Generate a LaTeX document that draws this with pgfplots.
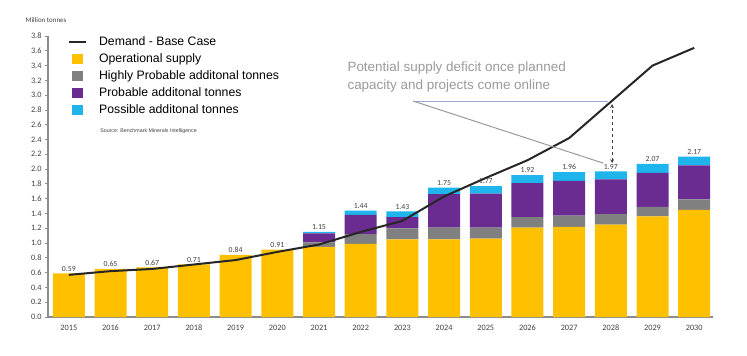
\documentclass[border=0pt]{standalone}
\usepackage{pgfplots}
\pgfplotsset{compat=1.18}
\usepackage{pgfplotstable}
\usepackage{fontspec}
\setmainfont{Liberation Sans}
\newfontfamily\calfont[Numbers=Lining]{Carlito}
\definecolor{opc}{HTML}{FFC000}
\definecolor{hpc}{HTML}{808080}
\definecolor{prc}{HTML}{6A2C91}
\definecolor{psc}{HTML}{1FB4EC}
\definecolor{axc}{HTML}{8C8C8C}
\definecolor{txc}{HTML}{404040}
\definecolor{annc}{HTML}{9A9A9A}
\definecolor{hlc}{HTML}{9AAAD0}

\pgfplotstableread{
x op hp pr ps tot lab
0 0.59 0 0 0 0.59 0.59
1 0.65 0 0 0 0.65 0.65
2 0.67 0 0 0 0.67 0.67
3 0.71 0 0 0 0.71 0.71
4 0.84 0 0 0 0.84 0.84
5 0.91 0 0 0 0.91 0.91
6 0.95 0.06 0.12 0.02 1.15 1.15
7 0.99 0.13 0.26 0.06 1.44 1.44
8 1.05 0.15 0.15 0.08 1.43 1.43
9 1.05 0.16 0.45 0.09 1.75 1.75
10 1.06 0.15 0.46 0.10 1.77 1.77
11 1.21 0.14 0.46 0.11 1.92 1.92
12 1.22 0.15 0.47 0.12 1.96 1.96
13 1.25 0.14 0.47 0.11 1.97 1.97
14 1.36 0.13 0.46 0.12 2.07 2.07
15 1.45 0.14 0.46 0.12 2.17 2.17
}\supply

\pgfplotstableread{
x d
0 0.57
1 0.62
2 0.65
3 0.71
4 0.77
5 0.88
6 0.98
7 1.15
8 1.30
9 1.63
10 1.88
11 2.12
12 2.42
13 2.91
14 3.40
15 3.64
}\demand

\pgfplotsset{
  common/.style={
    at={(0,0)}, anchor=south west,
    scale only axis, width=665bp, height=281bp,
    xmin=-0.5, xmax=15.45, ymin=0, ymax=3.8,
    clip=false,
  }
}

\begin{document}
\begin{tikzpicture}
\path (-48bp,-39bp) rectangle (699bp,317bp);
\begin{axis}[
  common,
  ybar stacked, bar width=32bp,
  axis x line*=bottom, axis y line*=left,
  axis line style={axc, line width=1.3bp},
  xtick={0,...,15},
  xticklabels={2015,2016,2017,2018,2019,2020,2021,2022,2023,2024,2025,2026,2027,2028,2029,2030},
  major x tick style={draw=none},
  xticklabel style={text height=6bp, text depth=0bp, yshift=-1bp},
  ytick={0,0.2,0.4,0.6,0.8,1.0,1.2,1.4,1.6,1.8,2.0,2.2,2.4,2.6,2.8,3.0,3.2,3.4,3.6,3.8},
  yticklabel style={/pgf/number format/.cd, fixed, fixed zerofill, precision=1},
  /pgf/number format/assume math mode=true,
  ticklabel style={font=\calfont\fontsize{8.3}{9}\selectfont, text=txc},
  tick align=outside, major tick length=3bp,
  major y tick style={axc, line width=0.8bp},
  legend style={at={(axis description cs:0.03,1.005)}, anchor=north west,
    draw=none, fill=none, font=\fontsize{12.3}{14}\selectfont, text=black,
    row sep=2.6bp, inner sep=0pt,
    /tikz/every odd column/.append style={column sep=10bp}},
  legend cell align=left,
]
\addlegendimage{legend image code/.code={\draw[black!85, line width=2bp] (0bp,0bp) -- (17bp,0bp);}}
\addlegendentry{Demand - Base Case}
\addplot[fill=opc, draw=none, legend image code/.code={\fill[opc] (3bp,-5bp) rectangle (14bp,5bp);}] table[x=x, y=op] {\supply};
\addlegendentry{Operational supply}
\addplot[fill=hpc, draw=none, legend image code/.code={\fill[hpc] (3bp,-5bp) rectangle (14bp,5bp);}] table[x=x, y=hp] {\supply};
\addlegendentry{Highly Probable additonal tonnes}
\addplot[fill=prc, draw=none, legend image code/.code={\fill[prc] (3bp,-5bp) rectangle (14bp,5bp);}] table[x=x, y=pr] {\supply};
\addlegendentry{Probable additonal tonnes}
\addplot[fill=psc, draw=none, legend image code/.code={\fill[psc] (3bp,-5bp) rectangle (14bp,5bp);}] table[x=x, y=ps] {\supply};
\addlegendentry{Possible additonal tonnes}
\end{axis}
\begin{axis}[common, hide axis]
\addplot[draw=none, mark=none, nodes near coords, point meta=explicit symbolic,
  nodes near coords style={font=\calfont\fontsize{7.8}{8}\selectfont, text=txc, anchor=south, inner sep=2bp, text height=5.5bp, text depth=0bp}]
  table[x=x, y=tot, meta=lab] {\supply};
\addplot[color=black!85, line width=2bp, mark=none] table[x=x, y=d] {\demand};
\node[anchor=west, font=\calfont\fontsize{7}{8}\selectfont, text=txc] at (axis cs:-1.12,4.02) {Million tonnes};
\node[anchor=west, font=\fontsize{5.3}{6}\selectfont, text=txc] at (axis cs:0.67,2.52) {Source: Benchmark Minerals Intelligence};
\node[anchor=west, align=left, font=\fontsize{13.5}{18}\selectfont, text=annc] at (axis cs:6.6,3.25) {Potential supply deficit once planned\\capacity and projects come online};
\draw[hlc, line width=1bp] (axis cs:8.26,2.92) -- (axis cs:12.94,2.92);
\draw[annc, line width=1bp] (axis cs:8.26,2.92) -- (axis cs:12.82,2.08);
\draw[txc, line width=0.8bp, dashed, <->, >=stealth] (axis cs:13.03,2.08) -- (axis cs:13.03,2.88);
\end{axis}
\end{tikzpicture}
\end{document}
